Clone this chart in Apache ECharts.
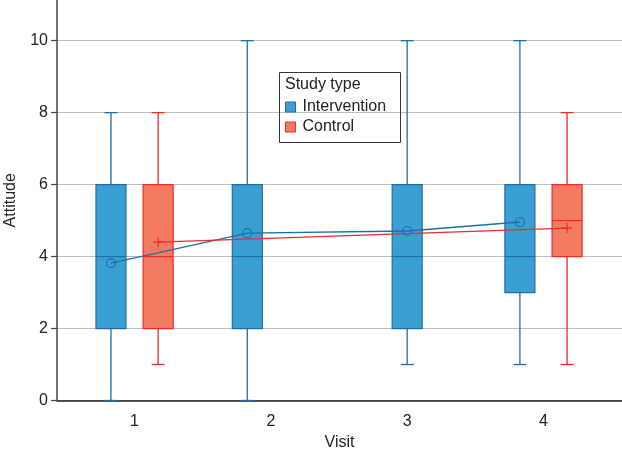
<!DOCTYPE html>
<html>
<head>
<meta charset="utf-8">
<script src="https://cdn.jsdelivr.net/npm/echarts@6/dist/echarts.min.js"></script>
<style>html,body{margin:0;padding:0;background:#fff}#c{width:622px;height:454px}</style>
</head>
<body>
<div id="c"></div>
<script>
// ---- data ----
const visits = [1, 2, 3, 4];
const yTicks = [0, 2, 4, 6, 8, 10];

// Intervention box stats per visit
const intMin = [0, 0, 1, 1];
const intQ1 = [2, 2, 2, 3];
const intMedian = [4, 4, 4, 4];
const intQ3 = [6, 6, 6, 6];
const intMax = [8, 10, 10, 10];
const intMean = [3.82, 4.65, 4.71, 4.96];

// Control box stats (visits 1 and 4 only)
const ctrlVisits = [1, 4];
const ctrlMin = [1, 1];
const ctrlQ1 = [2, 4];
const ctrlMedian = [4, 5];
const ctrlQ3 = [6, 6];
const ctrlMax = [8, 8];
const ctrlMean = [4.40, 4.79];

// ---- layout ----
const FONT = '"Liberation Sans", Arial, Helvetica, sans-serif';
const DODGE = 0.173;
const BOX_W = 30, CAP_W = 13;
const BLUE_FILL = '#3a9fd3', BLUE_LINE = '#1f6ea3';
const RED_FILL = '#f37a63', RED_LINE = '#ee2a2a';

function intPos(i) {
  // visit 3 box is centred in the reference; others dodged left
  return visits[i] + (visits[i] === 3 ? 0 : -DODGE);
}
function ctrlPos(i) { return ctrlVisits[i] + DODGE; }

const intBoxData = visits.map((v, i) => [intPos(i), intMin[i], intQ1[i], intMedian[i], intQ3[i], intMax[i]]);
const ctrlBoxData = ctrlVisits.map((v, i) => [ctrlPos(i), ctrlMin[i], ctrlQ1[i], ctrlMedian[i], ctrlQ3[i], ctrlMax[i]]);
const intMeanData = visits.map((v, i) => [intPos(i), intMean[i]]);
const ctrlMeanData = ctrlVisits.map((v, i) => [ctrlPos(i), ctrlMean[i]]);

function boxRenderer(fill, stroke) {
  return function (params, api) {
    const x = api.value(0);
    const pMin = api.coord([x, api.value(1)]);
    const pQ1 = api.coord([x, api.value(2)]);
    const pMed = api.coord([x, api.value(3)]);
    const pQ3 = api.coord([x, api.value(4)]);
    const pMax = api.coord([x, api.value(5)]);
    const cx = pMin[0];
    const ls = { stroke: stroke, lineWidth: 1.3 };
    return {
      type: 'group',
      children: [
        { type: 'line', shape: { x1: cx, y1: pQ3[1], x2: cx, y2: pMax[1] }, style: ls },
        { type: 'line', shape: { x1: cx, y1: pQ1[1], x2: cx, y2: pMin[1] }, style: ls },
        { type: 'line', shape: { x1: cx - CAP_W / 2, y1: pMax[1], x2: cx + CAP_W / 2, y2: pMax[1] }, style: ls },
        { type: 'line', shape: { x1: cx - CAP_W / 2, y1: pMin[1], x2: cx + CAP_W / 2, y2: pMin[1] }, style: ls },
        { type: 'rect', shape: { x: cx - BOX_W / 2, y: pQ3[1], width: BOX_W, height: pQ1[1] - pQ3[1] },
          style: { fill: fill, stroke: stroke, lineWidth: 1.2 } },
        { type: 'line', shape: { x1: cx - BOX_W / 2, y1: pMed[1], x2: cx + BOX_W / 2, y2: pMed[1] }, style: { stroke: stroke, lineWidth: 1.2 } }
      ]
    };
  };
}

const chart = echarts.init(document.getElementById('c'), null, { renderer: 'canvas' });
chart.setOption({
  animation: false,
  textStyle: { fontFamily: FONT },
  grid: { left: 57, right: 0, top: 0, bottom: 53.5, containLabel: false, outerBoundsMode: 'none' },
  xAxis: {
    type: 'value', min: 0.431, max: 4.576,
    name: 'Visit', nameLocation: 'middle', nameGap: 34,
    nameTextStyle: { fontSize: 16, color: '#222', fontFamily: FONT },
    axisLine: { show: true, lineStyle: { color: '#222', width: 1.5 } },
    axisTick: { show: false },
    splitLine: { show: false },
    axisLabel: { customValues: visits, fontSize: 16, color: '#222', margin: 13, fontFamily: FONT }
  },
  yAxis: {
    type: 'value', min: 0, max: 11.13,
    name: 'Attitude', nameLocation: 'middle', nameGap: 38, nameRotate: 90,
    nameTextStyle: { fontSize: 16, color: '#222', fontFamily: FONT },
    axisLine: { show: true, lineStyle: { color: '#444', width: 1.5 } },
    axisTick: { show: true, customValues: yTicks, length: 6, lineStyle: { color: '#444', width: 1.2 } },
    splitLine: { show: true, lineStyle: { color: '#bdbdbd', width: 1 } },
    axisLabel: { customValues: yTicks, fontSize: 16, color: '#222', margin: 9, fontFamily: FONT }
  },
  legend: {
    left: 285, top: 99, orient: 'vertical',
    padding: 0,
    itemWidth: 10, itemHeight: 10, itemGap: 4,
    textStyle: { fontSize: 16, color: '#222', fontFamily: FONT, padding: [0, 0, 0, 2] },
    data: [
      { name: 'Intervention', icon: 'rect', itemStyle: { color: BLUE_FILL, borderColor: BLUE_LINE, borderWidth: 1 } },
      { name: 'Control', icon: 'rect', itemStyle: { color: RED_FILL, borderColor: RED_LINE, borderWidth: 1 } }
    ]
  },
  graphic: [
    { type: 'rect', left: 277, top: 70, z: 10, shape: { x: 0, y: 0, width: 121, height: 70 },
      style: { fill: 'none', stroke: '#333', lineWidth: 1 } },
    { type: 'text', left: 285, top: 77, z: 10, style: { text: 'Study type', font: '16px ' + FONT, fill: '#222' } }
  ],
  series: [
    { type: 'custom', name: 'Intervention', data: intBoxData, renderItem: boxRenderer(BLUE_FILL, BLUE_LINE),
      itemStyle: { color: BLUE_FILL }, encode: { x: 0, y: [1, 2, 3, 4, 5] }, z: 2 },
    { type: 'custom', name: 'Control', data: ctrlBoxData, renderItem: boxRenderer(RED_FILL, RED_LINE),
      itemStyle: { color: RED_FILL }, encode: { x: 0, y: [1, 2, 3, 4, 5] }, z: 2 },
    { type: 'line', name: 'IntMean', data: intMeanData, symbol: 'circle', symbolSize: 9,
      lineStyle: { color: BLUE_LINE, width: 1.3 },
      itemStyle: { color: 'rgba(0,0,0,0)', borderColor: BLUE_LINE, borderWidth: 1.2 }, z: 5 },
    { type: 'line', name: 'CtrlMean', data: ctrlMeanData,
      symbol: 'path://M0,4.4H10V5.6H0Z M4.4,0H5.6V10H4.4Z', symbolSize: 10,
      lineStyle: { color: RED_LINE, width: 1.3 }, itemStyle: { color: RED_LINE }, z: 5 }
  ]
});
</script>
</body>
</html>
